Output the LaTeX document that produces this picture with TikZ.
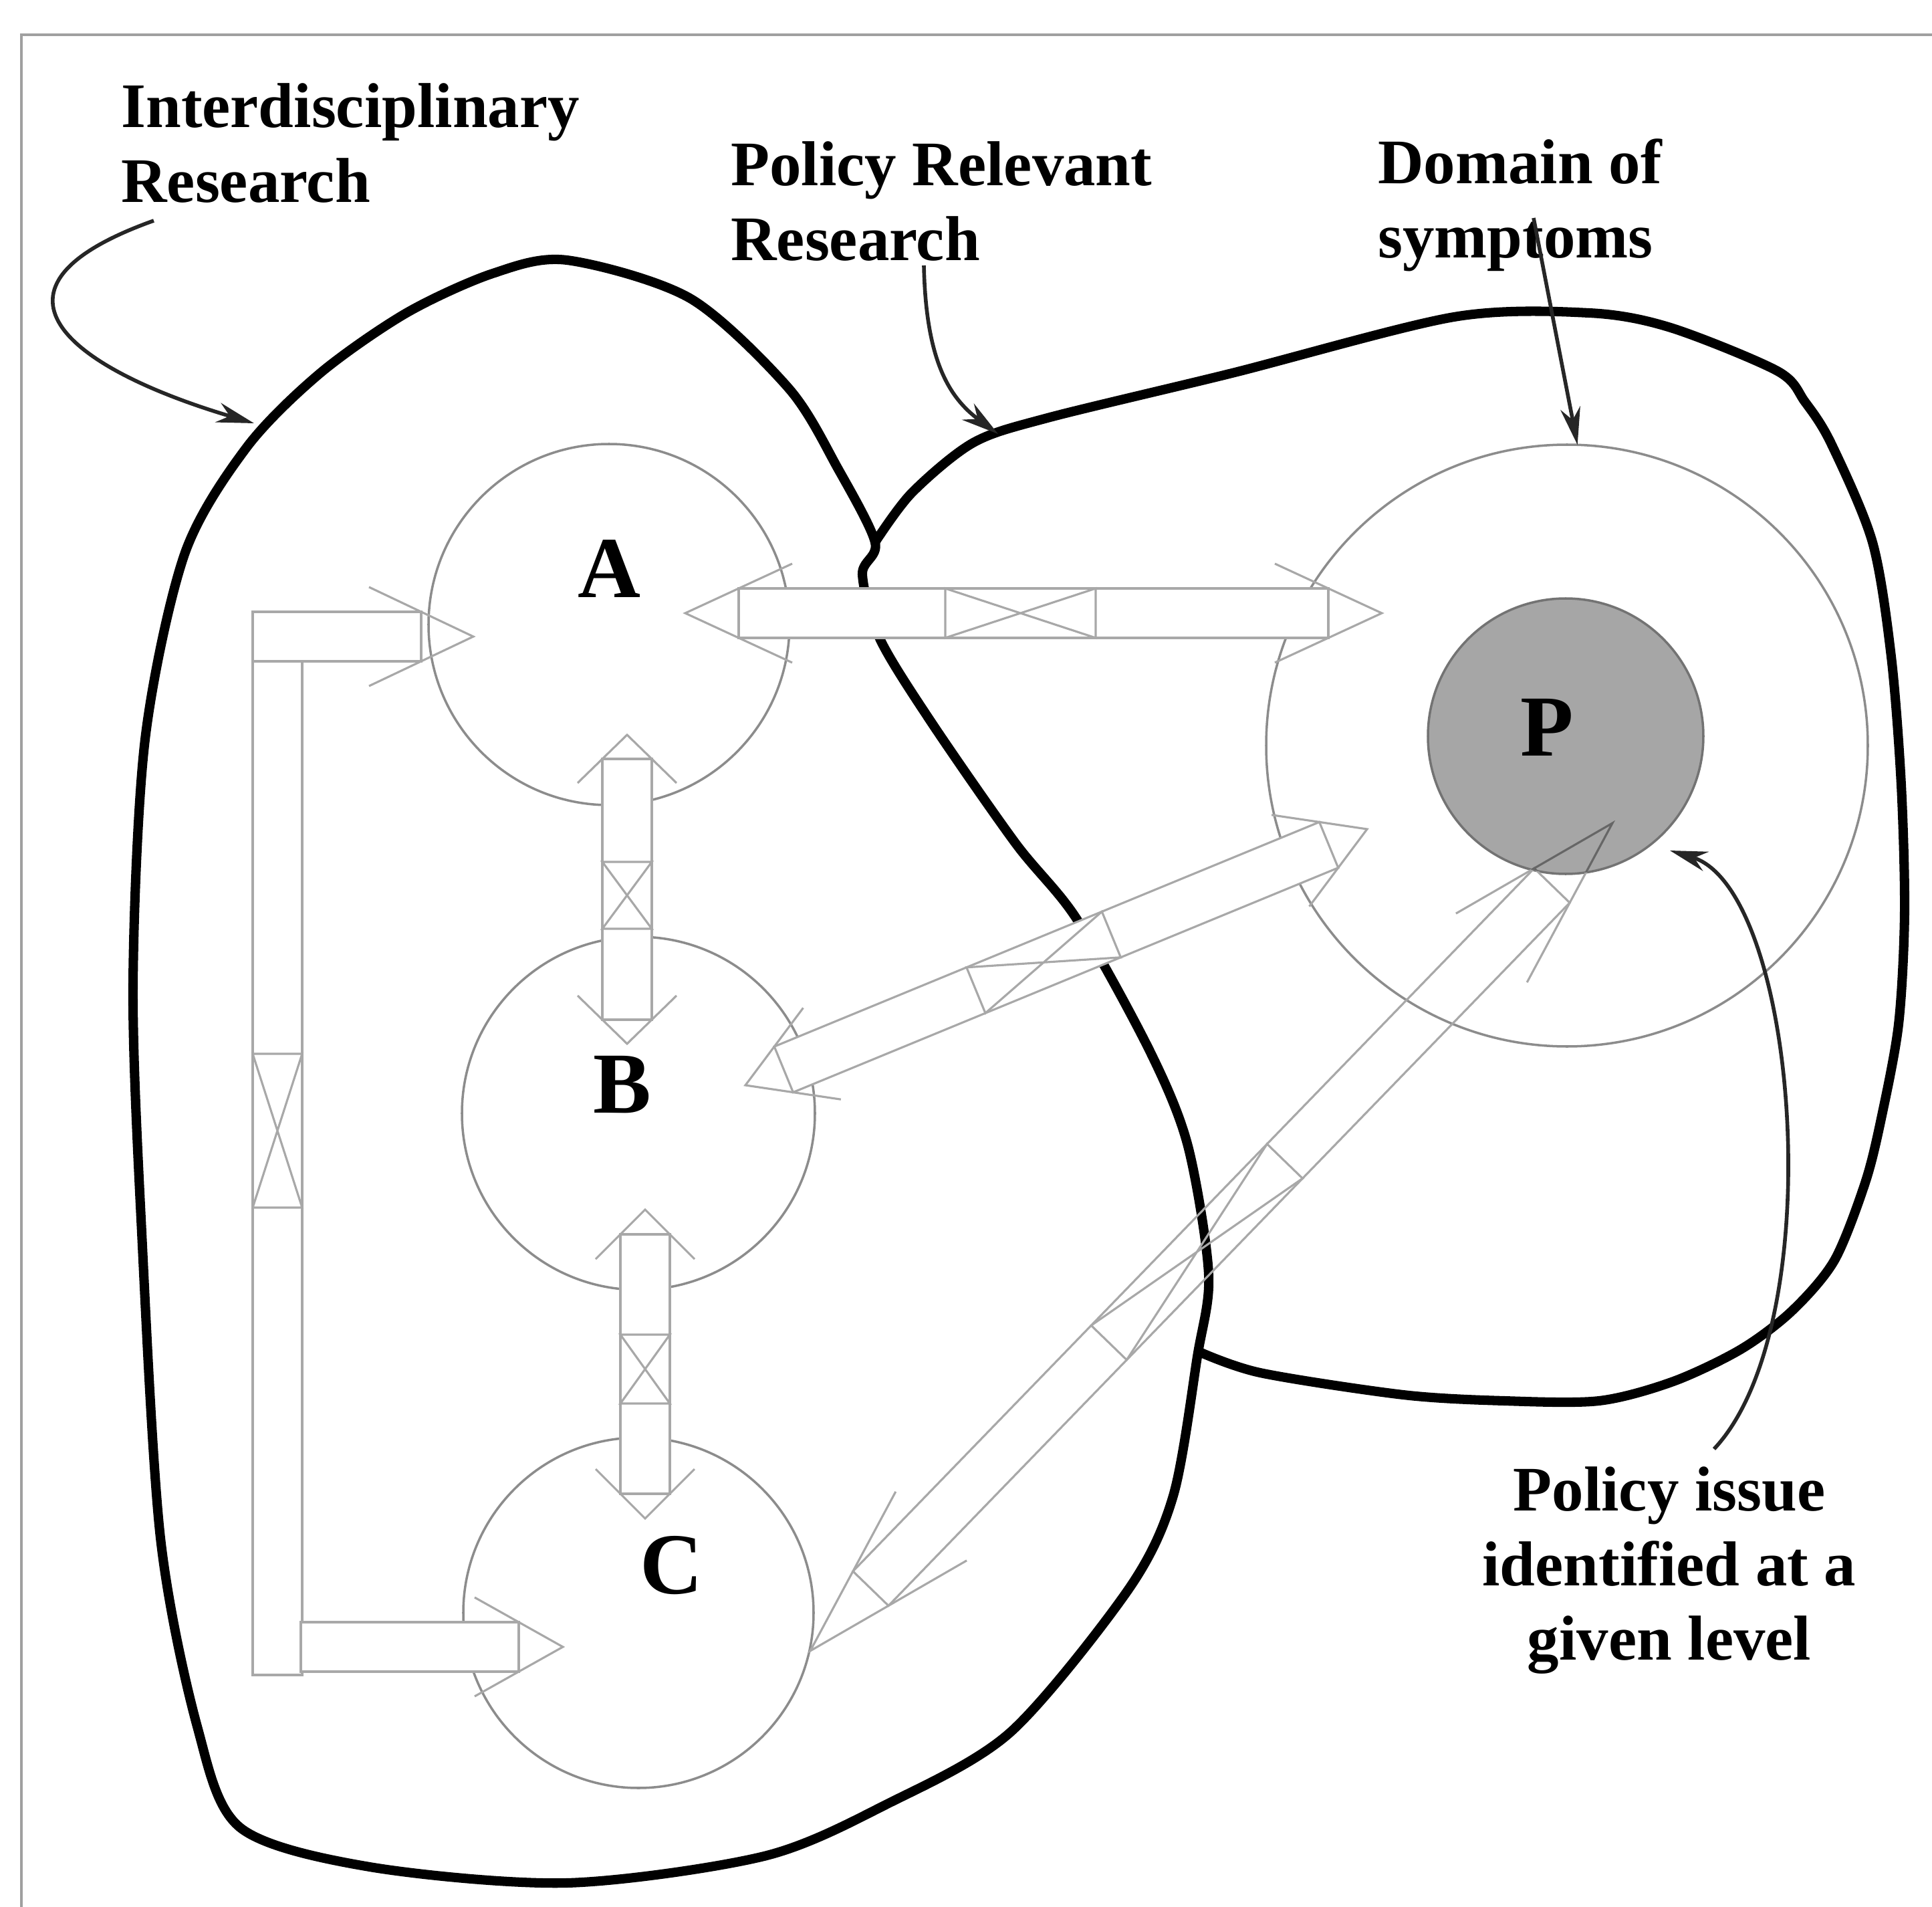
\documentclass[tikz,border=0pt]{standalone}
\usepackage{fontspec}
\setmainfont{Liberation Serif}
\usetikzlibrary{calc,arrows.meta}
\definecolor{ringGray}{HTML}{8C8C8C}
\definecolor{fatGray}{HTML}{A8A8A8}
\definecolor{pGray}{HTML}{A6A6A6}
\definecolor{frameGray}{HTML}{A0A0A0}
\newcommand{\shaftw}{0.185cm}
\newcommand{\barbw}{0.37cm}
% open head: tip, other end, head length
\newcommand{\fathead}[3]{%
 \draw[fat] ($($(#1)!2*#3!(#2)$)!\barbw!90:(#2)$) -- (#1) -- ($($(#1)!2*#3!(#2)$)!\barbw!-90:(#2)$);}
% shaft between two tips
\newcommand{\fatshaft}[4][fill=white]{%
 \draw[fat,#1] ($($(#2)!#4!(#3)$)!\shaftw!90:(#3)$) -- ($($(#3)!#4!(#2)$)!\shaftw!-90:(#2)$)
  -- ($($(#3)!#4!(#2)$)!\shaftw!90:(#2)$) -- ($($(#2)!#4!(#3)$)!\shaftw!-90:(#3)$) -- cycle;}
% crossed box, distances from first tip
\newcommand{\fatx}[4]{%
 \draw[fat] ($($(#1)!#3!(#2)$)!\shaftw!90:(#2)$) -- ($($(#1)!#3!(#2)$)!\shaftw!-90:(#2)$)
  -- ($($(#1)!#4!(#2)$)!\shaftw!90:(#2)$) -- ($($(#1)!#4!(#2)$)!\shaftw!-90:(#2)$) -- cycle;}
\newcommand{\fatarrow}[5]{%
 \fatshaft{#1}{#2}{#3}\fathead{#1}{#2}{#3}\fathead{#2}{#1}{#3}\fatx{#1}{#2}{#4}{#5}}

\begin{document}
\begin{tikzpicture}[x=0.5cm, y=0.5cm,
  ring/.style={circle, draw=ringGray, line width=0.5pt, inner sep=0pt, outer sep=0pt},
  blob/.style={line width=2pt, line join=round},
  fat/.style={draw=fatGray, line width=0.45pt},
  call/.style={black!85, line width=0.8pt, -{Stealth[length=2.8mm, width=1.5mm]}},
  lab/.style={font=\fontsize{13.5}{15.9}\selectfont\bfseries, inner sep=0pt},
  letter/.style={font=\fontsize{18.5}{20}\selectfont\bfseries, inner sep=0pt}]
\useasboundingbox (0,0) rectangle (28.90,-28.52);
\draw[frameGray, line width=0.7pt] (0.32,-28.52) -- (0.32,-0.52) -- (28.90,-0.52);

% research fields and the domain of symptoms
\node[ring, minimum size=2.70cm] (cA) at (9.11,-9.34) {};
\node[ring, minimum size=2.64cm] (cB) at (9.55,-16.65) {};
\node[ring, minimum size=2.62cm] (cC) at (9.55,-24.12) {};
\node[ring, minimum size=4.50cm] (dom) at (23.44,-11.15) {};
\node[ring, fill=pGray, draw=black!55, minimum size=2.06cm] (cP) at (23.42,-11.01) {};

% interdisciplinary area
\draw[blob] plot[smooth cycle] coordinates {(8.48,-3.89) (10.32,-4.46) (11.80,-5.81) (12.53,-7.00)
  (13.09,-8.11) (12.90,-8.59) (13.16,-9.55) (13.93,-10.80) (15.19,-12.61) (16.11,-13.75)
  (17.21,-15.74) (17.77,-17.14) (18.08,-19.06) (17.91,-20.29) (17.55,-22.37) (16.88,-23.77)
  (15.11,-25.91) (13.27,-26.98) (11.43,-27.76) (8.48,-28.16) (5.53,-27.92)
  (3.59,-27.33) (2.95,-25.82) (2.40,-23.00) (2.12,-18.43) (1.99,-14.74) (2.17,-11.06)
  (2.76,-8.29) (3.69,-6.69) (4.79,-5.58) (6.08,-4.68) (7.37,-4.09)};
% policy relevant area
\draw[blob] plot[smooth] coordinates {(13.09,-8.11) (13.64,-7.37) (14.56,-6.62) (15.67,-6.25)
  (18.43,-5.58) (21.75,-4.74) (23.77,-4.68) (24.99,-4.90) (26.59,-5.55) (27.00,-6.01)
  (27.39,-6.63) (28.01,-8.11) (28.29,-9.82) (28.44,-11.74) (28.49,-13.66) (28.40,-15.32)
  (28.14,-16.73) (27.90,-17.69) (27.44,-18.85) (26.80,-19.61) (26.04,-20.18) (25.03,-20.66)
  (23.92,-20.95) (22.50,-20.95) (20.99,-20.86) (18.85,-20.53) (17.90,-20.20)};

% fat arrows
\coordinate (adA) at (10.25,-9.17);
\coordinate (adD) at (20.67,-9.17);
\coordinate (abA) at (9.38,-10.99);
\coordinate (abB) at (9.38,-15.61);
\coordinate (bcB) at (9.65,-18.09);
\coordinate (bcC) at (9.65,-22.71);
\coordinate (bdB) at (11.15,-16.23);
\coordinate (bdD) at (20.45,-12.40);
\coordinate (cdC) at (12.12,-24.69);
\coordinate (cdP) at (24.12,-12.31);
\fatshaft[fill=none]{cdC}{cdP}{0.65cm}
\fathead{cdC}{cdP}{0.65cm}
\fathead{cdP}{cdC}{0.65cm}
\fatx{cdC}{cdP}{3.21cm}{5.10cm}
\begin{scope}[fat/.append style={draw=black!60}]
  \clip (cP) circle[radius=1.03cm];
  \fathead{cdP}{cdC}{0.65cm}
  \fatshaft[fill=none]{cdC}{cdP}{0.65cm}
\end{scope}
\fatarrow{adA}{adD}{0.4cm}{1.945cm}{3.07cm}
\fatarrow{abA}{abB}{0.18cm}{0.95cm}{1.45cm}
\fatarrow{bcB}{bcC}{0.185cm}{0.935cm}{1.45cm}
\fatarrow{bdB}{bdD}{0.31cm}{1.865cm}{2.96cm}

% bracket from A to C
\coordinate (armA) at (3.78,-9.52);
\coordinate (tipA) at (7.08,-9.52);
\coordinate (armC) at (4.52,-24.63);
\coordinate (tipC) at (8.42,-24.63);
\coordinate (barT) at (4.15,-9.89);
\coordinate (barB) at (4.15,-25.05);
\draw[fat, fill=white] (3.78,-9.89) rectangle (4.52,-25.05);
\draw[fat, fill=white] (3.78,-9.15) rectangle (6.30,-9.89);
\draw[fat, fill=white] (4.50,-24.26) rectangle (7.76,-25.00);
\fathead{tipA}{armA}{0.39cm}
\fathead{tipC}{armC}{0.33cm}
\fatx{barT}{barB}{2.935cm}{4.085cm}

% letters
\node[letter] (labA) at ($(cA)+(0,0.83)$) {A};
\node[letter] (labB) at ($(cB)+(-0.24,0.43)$) {B};
\node[letter] (labC) at ($(cC)+(0.49,0.71)$) {C};
\node[letter] (labP) at ($(cP)+(-0.28,0.13)$) {P};

% labels
\node[lab, align=left, anchor=north west] (irlab) at (1.80,-1.23) {Interdisciplinary\\Research};
\node[lab, align=left, anchor=north west] (prlab) at (10.92,-2.10) {Policy Relevant\\Research};
\node[lab, align=left, anchor=north west] (dslab) at (20.60,-2.06) {Domain of\\symptoms};
\node[lab, align=center, anchor=north] (pilab) at (24.97,-21.92) {Policy issue\\identified at a\\given level};

% callouts
\coordinate (irS) at (2.30,-3.30);
\coordinate (irE) at (3.80,-6.33);
\coordinate (prS) at (13.82,-3.97);
\coordinate (prE) at (14.93,-6.49);
\coordinate (dsS) at (22.94,-3.26);
\coordinate (piS) at (25.64,-21.67);
\coordinate (piE) at (24.98,-12.72);
\draw[call] (irS) .. controls (-0.5,-4.3) and (1.0,-5.5) .. (irE);
\draw[call] (prS) .. controls (13.85,-5.4) and (14.2,-5.95) .. (prE);
\draw[call] (dsS) -- (dom.88);
\draw[call] (piS) .. controls (27.4,-19.8) and (26.9,-13.3) .. (piE);
\end{tikzpicture}
\end{document}
